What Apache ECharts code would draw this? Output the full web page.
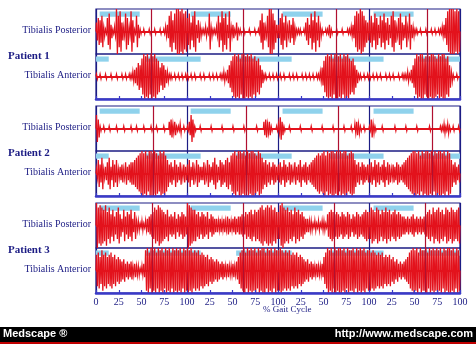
<!DOCTYPE html>
<html>
<head>
<meta charset="utf-8">
<script src="https://cdn.jsdelivr.net/npm/echarts@6/dist/echarts.min.js"></script>
<style>
html,body{margin:0;padding:0;background:#fff;}
#chart{width:476px;height:344px;}
</style>
</head>
<body>
<div id="chart"></div>
<script>
// EMG envelope amplitude (0-10) in 2% bins, four consecutive gait cycles of 50 bins each.
const p1Posterior = [
  4,6,5,7,2, 1,6,8,3,1, 2,10,7,9,4, 2,8,6,2,9, 5,1,7,3,1, 0,1,0,0,1, 0,0,1,0,0, 1,0,1,2,3, 7,9,5,8,10, 10,9,10,8,9,
  6,8,4,7,9, 3,5,2,1,1, 2,1,8,2,1, 1,2,7,4,9, 6,8,3,9,2, 3,1,4,1,1, 0,1,0,0,1, 0,0,1,0,1, 5,8,4,2,7, 10,10,8,5,3,
  3,6,8,4,7, 2,5,3,6,2, 1,1,1,0,1, 4,6,3,8,5, 9,4,7,2,1, 0,1,1,3,1, 0,0,1,0,0, 1,0,0,1,1, 2,3,7,9,8, 10,9,7,5,4,
  5,7,4,8,6, 3,7,5,8,4, 6,3,7,9,5, 2,6,8,4,3, 7,2,8,3,2, 1,1,0,1,0, 0,1,0,0,1, 0,1,0,1,1, 2,3,6,9,10, 10,10,9,10,9
];
const p1Anterior = [
  1,0,1,0,0, 1,0,0,1,0, 0,1,0,0,1, 0,1,0,1,1, 2,3,4,6,5, 8,10,9,10,8, 10,9,10,8,7, 4,6,5,3,2, 1,1,0,1,0, 1,0,1,0,1,
  1,0,1,0,1, 0,0,1,0,1, 0,0,1,0,1, 0,1,0,1,1, 2,1,3,5,7, 9,10,9,10,8, 10,10,9,10,9, 10,8,9,7,8, 5,3,1,1,0, 1,0,1,0,1,
  0,1,0,1,0, 0,1,0,1,0, 1,0,0,1,0, 1,0,1,0,1, 0,1,1,2,4, 7,9,10,9,10, 8,10,10,9,10, 8,10,9,10,8, 7,8,5,3,1, 1,0,1,0,1,
  1,0,1,0,1, 0,1,0,0,1, 0,1,0,1,0, 0,1,0,1,1, 1,2,1,3,5, 8,10,9,10,10, 8,9,10,9,10, 10,9,8,10,9, 10,10,8,9,5, 2,1,0,1,0
];
const p2Posterior = [
  6,4,1,0,1, 0,0,1,0,0, 0,1,0,0,0, 1,0,0,0,1, 0,0,1,0,0, 0,1,0,0,0, 1,0,0,1,0, 0,0,1,0,0, 3,4,2,3,1, 1,2,0,1,0,
  1,3,6,4,1, 0,0,1,0,0, 0,0,0,1,0, 0,0,0,0,1, 0,0,0,0,0, 1,0,0,0,0, 0,1,0,0,0, 0,0,0,1,0, 0,0,3,4,2, 3,1,0,0,1,
  2,5,3,1,0, 0,1,0,0,0, 0,0,1,0,0, 0,0,0,1,0, 0,0,0,0,1, 0,0,0,0,0, 1,0,0,0,0, 0,1,0,0,0, 1,0,2,3,2, 1,0,1,0,0,
  1,4,2,1,0, 0,0,1,0,0, 0,0,0,0,1, 0,0,0,0,0, 1,0,0,0,0, 0,1,0,0,0, 0,0,0,1,0, 0,0,0,0,1, 1,2,1,2,1, 0,1,0,0,1
];
const p2Anterior = [
  2,6,4,7,2, 3,5,7,3,6, 4,6,2,3,4, 2,5,3,4,5, 5,6,7,8,9, 10,9,10,8,10, 10,9,10,9,8, 10,9,10,8,6, 4,5,3,6,4, 3,5,2,4,3,
  4,6,3,5,2, 6,4,3,3,5, 2,6,4,3,5, 7,4,3,6,5, 4,6,7,5,8, 9,10,8,10,10, 9,10,8,10,9, 10,10,9,8,10, 9,7,5,6,4, 5,3,5,4,3,
  4,5,3,6,4, 3,5,4,2,5, 3,4,6,3,4, 5,3,4,5,6, 7,8,9,8,9, 10,8,10,9,10, 10,9,10,8,10, 9,10,10,8,9, 10,9,6,4,5, 3,5,4,3,4,
  4,5,3,6,4, 5,3,4,6,3, 5,4,2,4,3, 5,4,3,4,5, 6,7,8,9,10, 10,9,10,8,10, 9,10,10,9,10, 8,10,9,10,10, 9,10,8,10,9, 6,4,5,3,4
];
const p3Posterior = [
  10,8,9,8,7, 9,6,8,5,7, 4,6,8,5,3, 7,4,6,5,7, 3,6,2,2,1, 2,1,2,3,4, 5,6,8,7,9, 8,7,6,5,7, 4,5,4,6,3, 5,4,6,5,4,
  10,9,8,7,7, 5,6,4,6,5, 4,6,3,5,4, 3,3,2,3,2, 3,2,4,3,2, 3,4,3,4,4, 5,4,6,5,6, 7,5,7,6,7, 8,9,7,8,9, 8,9,7,8,6,
  6,9,10,8,7, 8,6,7,5,8, 6,7,5,6,4, 3,3,2,2,1, 2,1,2,1,2, 2,1,5,6,7, 6,5,6,5,4, 6,5,4,6,5, 3,5,4,6,5, 4,5,6,7,6,
  6,8,7,6,8, 7,5,7,6,8, 6,7,5,6,7, 5,6,5,4,4, 3,4,3,4,5, 3,4,3,4,3, 4,5,6,7,5, 8,6,7,8,6, 7,5,8,7,6, 8,7,6,7,8
];
const p3Anterior = [
  7,8,6,9,7, 8,6,7,8,6, 7,5,6,5,4, 5,3,4,3,4, 2,3,2,2,1, 2,3,9,10,8, 10,9,10,8,10, 9,10,8,10,9, 10,8,10,9,10, 9,10,8,10,9,
  10,9,10,8,9, 8,9,7,8,7, 6,7,5,6,5, 4,5,4,3,4, 3,2,3,2,2, 3,2,4,6,8, 9,10,8,10,9, 10,9,10,8,10, 9,10,10,8,10, 9,10,8,10,9,
  9,10,9,8,9, 8,9,7,8,7, 8,6,7,6,5, 4,5,3,4,3, 2,3,2,2,3, 6,8,10,9,10, 8,10,9,10,10, 9,10,8,10,9, 9,10,8,10,9, 10,9,10,8,9,
  9,8,9,8,7, 8,7,8,6,7, 6,7,5,6,4, 5,3,4,3,4, 5,6,8,9,10, 9,10,8,10,9, 9,10,8,10,9, 10,9,10,9,10, 8,10,9,10,10, 9,10,8,10,9
];

// Toe-off markers, in % of the four-cycle record (0-400)
const p1ToeOff = [61, 162, 264, 364];
const p2ToeOff = [63, 165, 266, 369];
const p3ToeOff = [62, 162, 262, 362];

// Foot-switch contact periods shown above each trace (start, end) in % of record
const posteriorContact = [[4, 48], [104, 148], [205, 249], [305, 349]];
const anteriorContact = [[0, 14], [54, 115], [154, 215], [256, 316], [355, 400]];

const patientNames = ['Patient 1', 'Patient 2', 'Patient 3'];
const muscleNames = ['Tibialis Posterior', 'Tibialis Anterior'];
const gaitTickLabels = ['0','25','50','75','100','25','50','75','100','25','50','75','100','25','50','75','100'];
const axisTitle = '% Gait Cycle';

const NAVY = '#1c1c84';
const TRACE = '#e3121c';
const TOE = '#b01030';
const CONTACT = '#8fd2ec';
const AXIS_BLUE = '#3a3ac8';
const SERIF = '"Liberation Serif", "DejaVu Serif", serif';

const panels = [
  { data: p1Posterior, toe: p1ToeOff, contact: posteriorContact, top: 9,   anterior: false },
  { data: p1Anterior,  toe: p1ToeOff, contact: anteriorContact,  top: 54,  anterior: true },
  { data: p2Posterior, toe: p2ToeOff, contact: posteriorContact, top: 106, anterior: false },
  { data: p2Anterior,  toe: p2ToeOff, contact: anteriorContact,  top: 151, anterior: true },
  { data: p3Posterior, toe: p3ToeOff, contact: posteriorContact, top: 203, anterior: false },
  { data: p3Anterior,  toe: p3ToeOff, contact: anteriorContact,  top: 248, anterior: true }
];
const PANEL_H = 45;
const LEFT = 96;
const WIDTH = 364;

const grid = [], xAxis = [], yAxis = [], series = [];

panels.forEach((p, i) => {
  grid.push({
    left: LEFT, width: WIDTH, top: p.top, height: PANEL_H,
    show: true, borderColor: NAVY, borderWidth: 1.2, backgroundColor: 'transparent'
  });
  // cycle boundaries
  const mainX = xAxis.length;
  xAxis.push({
    gridIndex: i, type: 'value', min: 0, max: 400, interval: 100,
    axisLine: { show: false }, axisTick: { show: false }, axisLabel: { show: false },
    splitLine: { show: true, lineStyle: { color: NAVY, width: 1.2 } }
  });
  if (p.anterior) {
    xAxis.push({
      gridIndex: i, type: 'value', min: 0, max: 400, interval: 25, position: 'bottom',
      axisLine: { show: true, lineStyle: { color: AXIS_BLUE, width: 2.5 } },
      axisTick: { show: true, inside: true, length: 3, lineStyle: { color: AXIS_BLUE, width: 1.2 } },
      axisLabel: {
        show: i === 5, margin: 4, color: NAVY, fontFamily: SERIF, fontSize: 10,
        formatter: v => gaitTickLabels[Math.round(v / 25)]
      },
      splitLine: { show: false }, z: 5
    });
  }
  yAxis.push({ gridIndex: i, type: 'value', min: -10, max: 10, show: false });

  series.push({
    type: 'custom', xAxisIndex: mainX, yAxisIndex: i, z: 2, silent: true,
    data: p.contact,
    renderItem: (params, api) => {
      const a = api.coord([api.value(0), 8.9]);
      const b = api.coord([api.value(1), 6.6]);
      return { type: 'rect', shape: { x: a[0], y: a[1], width: b[0] - a[0], height: b[1] - a[1] },
               style: { fill: CONTACT } };
    }
  });

  // each bin is drawn as one biphasic oscillation of its amplitude
  series.push({
    type: 'custom', xAxisIndex: mainX, yAxisIndex: i, z: 3, silent: true,
    data: p.data.map((a, k) => [2 * k + 1, a]),
    renderItem: (params, api) => {
      const t = api.value(0), amp = api.value(1);
      if (amp <= 0) return null;
      const pts = [[t - 1, 0], [t - 0.5, amp], [t + 0.5, -amp], [t + 1, 0]].map(q => api.coord(q));
      return { type: 'polyline', shape: { points: pts },
               style: { stroke: TRACE, lineWidth: 1.3, fill: null } };
    },
    markLine: {
      silent: true, symbol: 'none', label: { show: false },
      data: [
        { yAxis: 0, lineStyle: { color: TRACE, width: 2, type: 'solid' } },
        ...p.toe.map(t => ({ xAxis: t, lineStyle: { color: TOE, width: 1.2, type: 'solid' } }))
      ]
    }
  });
});

const graphic = [];
panels.forEach((p, i) => {
  graphic.push({
    type: 'text', right: 476 - 91, top: p.top + PANEL_H / 2 - 6,
    style: { text: muscleNames[i % 2], fill: NAVY, font: '10px ' + SERIF, textAlign: 'right' }
  });
});
patientNames.forEach((name, j) => {
  graphic.push({
    type: 'text', left: 8, top: panels[2 * j].top + 42,
    style: { text: name, fill: NAVY, font: 'bold 11px ' + SERIF }
  });
});
graphic.push({
  type: 'text', left: 263, top: 305,
  style: { text: axisTitle, fill: NAVY, font: '9px ' + SERIF }
});
graphic.push({ type: 'rect', left: 0, top: 327, shape: { width: 476, height: 15 }, style: { fill: '#000' } });
graphic.push({ type: 'rect', left: 0, top: 342, shape: { width: 476, height: 2 }, style: { fill: '#c00000' } });
graphic.push({
  type: 'text', left: 3, top: 328,
  style: { text: 'Medscape \u00ae', fill: '#fff', font: 'bold 11px "Liberation Sans", Arial, sans-serif' }
});
graphic.push({
  type: 'text', right: 3, top: 328,
  style: { text: 'http://www.medscape.com', fill: '#fff', font: 'bold 11px "Liberation Sans", Arial, sans-serif', textAlign: 'right' }
});

const chart = echarts.init(document.getElementById('chart'), null, { renderer: 'canvas' });
chart.setOption({
  animation: false,
  backgroundColor: '#fff',
  grid, xAxis, yAxis, series, graphic
});
</script>
</body>
</html>
